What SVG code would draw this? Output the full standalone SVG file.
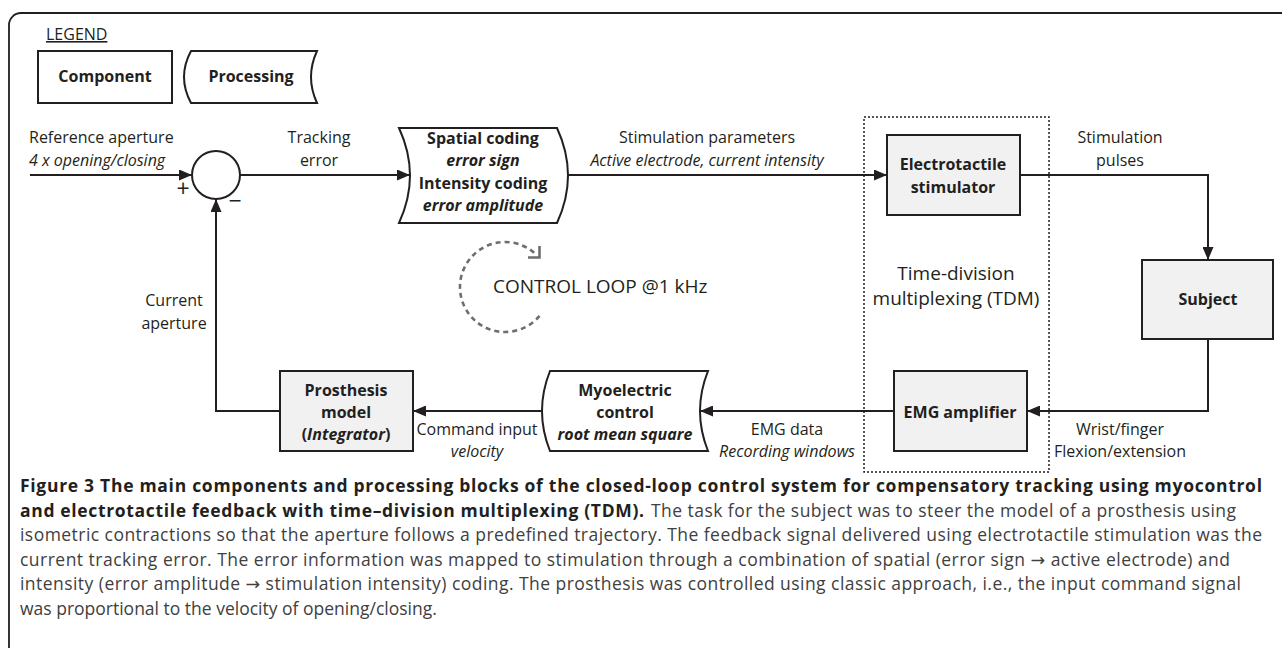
<svg xmlns="http://www.w3.org/2000/svg" width="1282" height="648" viewBox="0 0 1282 648">
<style>
text{font-family:"Open Sans","DejaVu Sans",sans-serif;fill:#231f20}
.l{font-size:16px}
.b{font-weight:bold}
.i{font-style:italic}
.big{font-size:19px}
.c{text-anchor:middle}
.box{fill:#f1f1f2;stroke:#231f20;stroke-width:2}
.wbox{fill:#ffffff;stroke:#231f20;stroke-width:2}
.con{fill:none;stroke:#231f20;stroke-width:2}
.cap{font-size:17.5px}
.capn{fill:#404040}
</style>
<defs>
<marker id="ah" markerUnits="userSpaceOnUse" markerWidth="13" markerHeight="11" refX="13" refY="5.5" orient="auto">
<path d="M0,0 L13,5.5 L0,11 Z" fill="#231f20"/>
</marker>
</defs>
<rect width="1282" height="648" fill="#ffffff"/>
<path d="M9,648 V25 A12,12 0 0 1 21,13 H1282" fill="none" stroke="#231f20" stroke-width="1.8"/>

<g id="legend">
<text x="46" y="40" class="l" text-decoration="underline">LEGEND</text>
<rect x="38" y="51" width="134" height="52" class="wbox"/>
<text x="105" y="82" class="l b c">Component</text>
<path d="M191,51 H317 Q305,77 317,103 H191 Q177,77 191,51 Z" class="wbox"/>
<text x="251" y="82" class="l b c">Processing</text>
</g>

<g id="connectors">
<path d="M30,175 H192" class="con" marker-end="url(#ah)"/>
<path d="M280,411 H216 V199" class="con" marker-end="url(#ah)"/>
<path d="M240,175 H410" class="con" marker-end="url(#ah)"/>
<path d="M568,175 H887" class="con" marker-end="url(#ah)"/>
<path d="M1020,175 H1208 V260" class="con" marker-end="url(#ah)"/>
<path d="M1208,339 V411 H1027" class="con" marker-end="url(#ah)"/>
<path d="M894,411 H700" class="con" marker-end="url(#ah)"/>
<path d="M542,411 H413" class="con" marker-end="url(#ah)"/>
</g>

<g id="labels">
<text x="29" y="143" class="l">Reference aperture</text>
<text x="29" y="166" class="l i">4 x opening/closing</text>
<text x="319" y="143" class="l c">Tracking</text>
<text x="319" y="166" class="l c">error</text>
<text x="707" y="143" class="l c">Stimulation parameters</text>
<text x="707" y="166" class="l c i">Active electrode, current intensity</text>
<text x="1120" y="143" class="l c">Stimulation</text>
<text x="1120" y="166" class="l c">pulses</text>
<text x="174" y="306" class="l c">Current</text>
<text x="174" y="329" class="l c">aperture</text>
<text x="477" y="435" class="l c">Command input</text>
<text x="477" y="457" class="l c i">velocity</text>
<text x="787" y="435" class="l c">EMG data</text>
<text x="787" y="457" class="l c i">Recording windows</text>
<text x="1120" y="435" class="l c">Wrist/finger</text>
<text x="1120" y="457" class="l c">Flexion/extension</text>
</g>

<g id="sum">
<circle cx="216" cy="175" r="24" fill="#ffffff" stroke="#231f20" stroke-width="2"/>
<text x="183" y="197" class="c" font-size="23px">+</text>
<text x="235" y="209" class="c" font-size="23px">−</text>
</g>

<g id="spatial-coding">
<path d="M399,128 H557 Q579,175.5 557,223 H399 Q421,175.5 399,128 Z" class="wbox"/>
<text x="483" y="144" class="l b c">Spatial coding</text>
<text x="483" y="166" class="l b i c">error sign</text>
<text x="483" y="189" class="l b c">Intensity coding</text>
<text x="483" y="211" class="l b i c">error amplitude</text>
</g>

<g id="tdm">
<rect x="864" y="117" width="185" height="355" fill="none" stroke="#231f20" stroke-width="1.5" stroke-dasharray="2,2"/>
<text x="956" y="280" class="big c">Time-division</text>
<text x="956" y="305" class="big c">multiplexing (TDM)</text>
</g>

<g id="electrotactile-stimulator">
<rect x="887" y="135" width="133" height="80" class="box"/>
<text x="953" y="170" class="l b c">Electrotactile</text>
<text x="953" y="193" class="l b c">stimulator</text>
</g>

<g id="subject">
<rect x="1142" y="260" width="131" height="79" class="box"/>
<text x="1208" y="305" class="l b c">Subject</text>
</g>

<g id="emg-amplifier">
<rect x="894" y="371" width="133" height="80" class="box"/>
<text x="960" y="418" class="l b c">EMG amplifier</text>
</g>

<g id="myoelectric-control">
<path d="M550,371 H708 Q692,411 708,451 H550 Q534,411 550,371 Z" class="wbox"/>
<text x="625" y="396" class="l b c">Myoelectric</text>
<text x="625" y="418" class="l b c">control</text>
<text x="625" y="440" class="l b i c">root mean square</text>
</g>

<g id="prosthesis-model">
<rect x="280" y="371" width="133" height="80" class="box"/>
<text x="346" y="396" class="l b c">Prosthesis</text>
<text x="346" y="418" class="l b c">model</text>
<text x="346" y="440" class="l b c">(<tspan class="i">Integrator</tspan>)</text>
</g>

<g id="control-loop">
<path d="M539.5,315.9 A45,45 0 1 1 536.8,255.2" fill="none" stroke="#6d6e71" stroke-width="2.6" stroke-dasharray="5,4"/>
<path d="M528,257.5 H539.5 V246" fill="none" stroke="#6d6e71" stroke-width="2.6"/>
<text x="493" y="293" class="big">CONTROL LOOP @1 kHz</text>
</g>

<g id="caption">
<text x="20" y="492" class="cap b" textLength="1242" lengthAdjust="spacing">Figure 3 The main components and processing blocks of the closed-loop control system for compensatory tracking using myocontrol</text>
<text x="20" y="516.5" class="cap b" textLength="624" lengthAdjust="spacing">and electrotactile feedback with time–division multiplexing (TDM).</text>
<text x="651" y="516.5" class="cap capn" textLength="585" lengthAdjust="spacing">The task for the subject was to steer the model of a prosthesis using</text>
<text x="20" y="541" class="cap capn" textLength="1242" lengthAdjust="spacing">isometric contractions so that the aperture follows a predefined trajectory. The feedback signal delivered using electrotactile stimulation was the</text>
<text x="20" y="565.5" class="cap capn" textLength="1210" lengthAdjust="spacing">current tracking error. The error information was mapped to stimulation through a combination of spatial (error sign → active electrode) and</text>
<text x="20" y="590" class="cap capn" textLength="1221" lengthAdjust="spacing">intensity (error amplitude → stimulation intensity) coding. The prosthesis was controlled using classic approach, i.e., the input command signal</text>
<text x="20" y="614.5" class="cap capn">was proportional to the velocity of opening/closing.</text>
</g>
</svg>
